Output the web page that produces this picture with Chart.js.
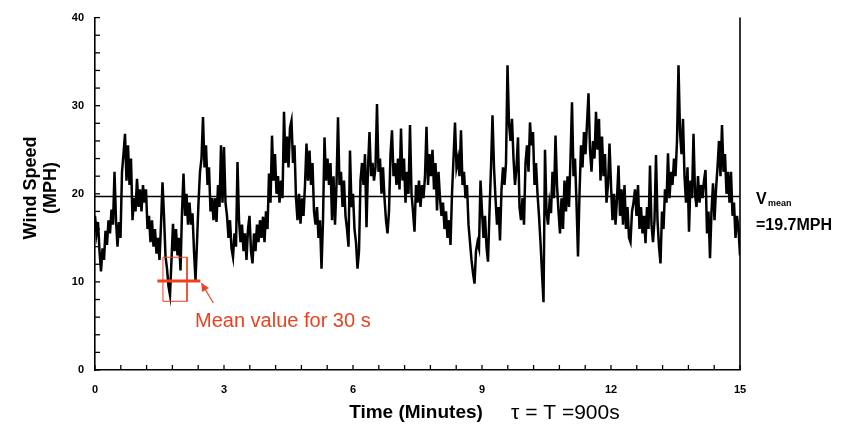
<!DOCTYPE html>
<html>
<head>
<meta charset="utf-8">
<script src="https://cdn.jsdelivr.net/npm/chart.js@4.4.1/dist/chart.umd.min.js"></script>
<style>
  html, body { margin: 0; padding: 0; background: #fff; }
</style>
</head>
<body>
<canvas id="windChart" width="852" height="429"></canvas>
<script>
// wind speed (MPH), one list per 3-minute stretch
const speed0to3 = [17.5,15.5,16.8,13.5,11.2,13.8,12.5,15.8,14.2,17.0,15.5,18.2,16.5,22.5,17.0,14.0,16.8,15.0,22.5,24.5,26.8,21.5,25.5,21.0,24.0,17.0,19.5,18.0,21.7,18.5,20.5,18.0,21.0,19.0,20.5,16.0,17.5,14.5,17.0,14.0,16.0,13.2,15.0,12.5,16.5,21.3,17.5,12.9,11.5,9.5,8.5,12.5,16.6,13.5,16.0,13.0,15.0,11.3,18.0,22.3,17.5,20.0,16.5,19.0,16.5,17.8,13.5,10.2,14.5,19.0,22.5,24.0,28.7,23.0,25.5,21.0,23.0,18.0,19.5,17.0,19.5,16.8,21.0,18.5,25.5,19.0];
const speed3to6 = [25.3,19.0,17.5,15.0,17.0,13.8,12.8,15.5,14.0,23.6,17.0,14.5,16.5,13.5,15.5,12.5,16.0,17.5,13.5,12.1,15.5,13.5,16.5,14.5,17.0,15.0,17.4,14.5,18.0,16.0,22.3,19.0,26.6,21.5,24.5,20.0,22.0,19.0,21.5,19.5,29.3,23.5,26.5,23.0,27.5,28.3,23.5,25.5,19.5,17.0,20.0,16.6,19.5,17.5,21.0,25.7,21.5,24.9,21.0,23.5,18.0,16.5,18.5,15.0,17.0,11.5,17.0,26.4,21.5,24.0,21.0,23.5,17.0,22.0,16.5,21.0,28.7,21.0,22.5,18.5,21.5,17.5,16.0,14.0,24.9,18.5];
const speed6to9 = [20.0,16.0,14.5,11.5,13.5,21.5,23.5,21.0,24.5,16.2,23.0,27.0,22.0,23.5,21.5,23.0,30.2,22.5,24.0,20.0,23.0,19.5,17.0,15.5,18.0,24.5,27.2,22.0,23.5,21.0,24.0,20.5,27.4,21.5,24.0,19.0,22.5,20.0,27.8,20.0,18.0,15.7,21.0,19.0,21.5,18.5,21.0,19.5,22.0,27.6,21.0,24.5,22.0,25.0,20.5,23.5,18.1,22.5,19.5,17.5,19.0,16.0,18.0,15.0,17.0,14.2,20.0,24.0,28.1,23.0,24.0,22.0,27.2,21.0,22.5,19.5,21.0,16.5,14.5,12.5,11.0,9.8,13.5,14.5,13.8,21.5];
const speed9to12 = [18.0,15.0,17.5,14.0,12.3,18.0,23.0,28.9,23.0,19.5,16.5,18.5,14.7,20.5,23.0,21.0,23.5,34.6,28.0,26.0,28.5,24.0,21.0,23.0,26.4,18.5,17.0,19.5,16.5,23.5,25.5,22.5,28.1,25.5,27.0,21.0,23.5,20.0,17.5,14.5,11.0,7.7,25.0,18.0,16.5,19.0,17.8,22.5,19.5,26.6,21.0,18.0,15.5,19.5,16.0,21.5,18.0,22.0,18.5,24.0,30.4,22.0,24.0,19.0,12.9,20.0,25.5,23.0,27.0,24.5,28.0,31.4,25.0,22.5,26.0,24.0,29.3,25.0,28.5,21.5,26.5,22.0,24.5,19.0,21.0,25.7];
const speed12to15 = [21.0,17.0,20.0,16.5,19.5,23.2,17.5,20.5,16.5,21.0,16.0,18.5,15.0,14.5,18.0,19.0,20.5,17.5,21.0,16.0,18.5,15.5,17.5,14.4,18.5,16.0,23.2,16.5,14.5,17.0,24.4,17.0,14.0,12.1,18.0,16.0,20.5,19.0,24.6,19.5,22.5,21.0,24.0,22.0,26.0,34.6,27.0,24.5,28.5,22.0,19.0,23.0,15.7,21.5,19.5,26.8,20.0,18.5,22.0,19.0,21.0,19.5,21.5,22.7,15.5,18.0,12.7,18.0,21.2,17.0,20.5,23.0,26.0,22.0,27.8,22.5,24.5,20.0,22.5,19.0,22.5,17.5,19.0,15.0,17.5,16.0,13.0];

const sections = [speed0to3, speed3to6, speed6to9, speed9to12, speed12to15];
const meanSpeed = 19.7;
const yTickLabels = [0, 10, 20, 30, 40];
const xTickLabels = [0, 3, 6, 9, 12, 15];

// the 30 s window marked in red (minutes / MPH)
const windowBox = { from: 1.58, to: 2.14, low: 7.8, high: 12.8 };
const windowMean = { from: 1.45, to: 2.45, value: 10.1 };

const red = '#f2401e';
const fontFamily = "'Liberation Sans', Arial, sans-serif";

// spread each stretch's samples evenly over its 3 minutes
let windPoints = [];
sections.forEach((vals, k) => {
    const last = k === sections.length - 1;
    const step = 3 / (last ? vals.length - 1 : vals.length);
    vals.forEach((v, i) => windPoints.push({ x: k * 3 + i * step, y: v }));
});

const decorPlugin = {
    id: 'decor',
    afterDraw(chart) {
        const ctx = chart.ctx;
        const area = chart.chartArea;
        const xs = chart.scales.x;
        const ys = chart.scales.y;
        ctx.save();

        // inward tick marks
        ctx.strokeStyle = '#000';
        ctx.lineWidth = 1.3;
        ys.ticks.forEach(t => {
            const py = ys.getPixelForValue(t.value);
            ctx.beginPath();
            ctx.moveTo(area.left, py);
            ctx.lineTo(area.left + 5, py);
            ctx.stroke();
        });
        xs.ticks.forEach(t => {
            const px = xs.getPixelForValue(t.value);
            ctx.beginPath();
            ctx.moveTo(px, area.bottom);
            ctx.lineTo(px, area.bottom - 5);
            ctx.stroke();
        });

        // right frame
        ctx.lineWidth = 1.6;
        ctx.beginPath();
        ctx.moveTo(area.right, area.top);
        ctx.lineTo(area.right, area.bottom);
        ctx.stroke();

        // axis titles
        ctx.fillStyle = '#000';
        ctx.textAlign = 'center';
        ctx.textBaseline = 'middle';
        ctx.save();
        ctx.translate(31, 188);
        ctx.rotate(-Math.PI / 2);
        ctx.font = 'bold 18px ' + fontFamily;
        ctx.fillText('Wind Speed', 0, 0);
        ctx.fillText('(MPH)', 0, 20);
        ctx.restore();

        ctx.font = 'bold 19px ' + fontFamily;
        ctx.fillText('Time (Minutes)', 416, 413);

        ctx.textAlign = 'left';
        ctx.font = '21px ' + fontFamily;
        ctx.fillText('\u03c4 = T =900s', 511, 413);

        // mean label
        ctx.font = 'bold 16px ' + fontFamily;
        ctx.fillText('V', 756, 200);
        ctx.font = 'bold 9px ' + fontFamily;
        ctx.fillText('mean', 768, 204);
        ctx.font = 'bold 16px ' + fontFamily;
        ctx.fillText('=19.7MPH', 756, 226);

        // red annotation text and arrow
        ctx.fillStyle = red;
        ctx.strokeStyle = red;
        ctx.font = '20px ' + fontFamily;
        ctx.fillText('Mean value for 30 s', 195, 321);

        const tipX = xs.getPixelForValue(windowMean.to) + 1;
        const tipY = ys.getPixelForValue(windowMean.value) + 2;
        const tailX = tipX + 12;
        const tailY = tipY + 20;
        const ang = Math.atan2(tipY - tailY, tipX - tailX);
        ctx.lineWidth = 1.2;
        ctx.beginPath();
        ctx.moveTo(tailX, tailY);
        ctx.lineTo(tipX, tipY);
        ctx.stroke();
        ctx.beginPath();
        ctx.moveTo(tipX, tipY);
        ctx.lineTo(tipX - 9 * Math.cos(ang - 0.45), tipY - 9 * Math.sin(ang - 0.45));
        ctx.lineTo(tipX - 9 * Math.cos(ang + 0.45), tipY - 9 * Math.sin(ang + 0.45));
        ctx.closePath();
        ctx.fill();

        ctx.restore();
    }
};

const tickFont = { family: fontFamily, size: 11, weight: 'bold' };

new Chart(document.getElementById('windChart').getContext('2d'), {
    type: 'line',
    data: {
        datasets: [
            {
                label: 'Mean value for 30 s',
                data: [{ x: windowMean.from, y: windowMean.value }, { x: windowMean.to, y: windowMean.value }],
                borderColor: red,
                borderWidth: 3,
                pointRadius: 0
            },
            {
                label: '30 s window',
                data: [
                    { x: windowBox.from, y: windowBox.high },
                    { x: windowBox.to, y: windowBox.high },
                    { x: windowBox.to, y: windowBox.low },
                    { x: windowBox.from, y: windowBox.low },
                    { x: windowBox.from, y: windowBox.high }
                ],
                borderColor: red,
                borderWidth: 1,
                pointRadius: 0
            },
            {
                label: 'Vmean',
                data: [{ x: 0, y: meanSpeed }, { x: 15, y: meanSpeed }],
                borderColor: '#000',
                borderWidth: 1.6,
                pointRadius: 0
            },
            {
                label: 'Wind Speed',
                data: windPoints,
                borderColor: '#000',
                borderWidth: 2.5,
                pointRadius: 0,
                tension: 0
            }
        ]
    },
    options: {
        responsive: false,
        animation: false,
        devicePixelRatio: 1,
        layout: { padding: { left: 0, right: 112, top: 17, bottom: 0 } },
        plugins: {
            legend: { display: false },
            tooltip: { enabled: false }
        },
        scales: {
            x: {
                type: 'linear',
                min: 0,
                max: 15,
                afterFit: s => { s.height = 59; },
                border: { display: true, color: '#000', width: 1.6 },
                grid: { display: true, drawOnChartArea: false, drawTicks: false },
                ticks: {
                    stepSize: 0.6,
                    autoSkip: false,
                    maxRotation: 0,
                    padding: 13,
                    color: '#000',
                    font: tickFont,
                    callback: v => xTickLabels.some(l => Math.abs(l - v) < 1e-6) ? String(Math.round(v)) : ''
                }
            },
            y: {
                min: 0,
                max: 40,
                afterFit: s => { s.width = 95; },
                border: { display: true, color: '#000', width: 1.6 },
                grid: { display: true, drawOnChartArea: false, drawTicks: false },
                ticks: {
                    stepSize: 2,
                    autoSkip: false,
                    padding: 11,
                    color: '#000',
                    font: tickFont,
                    callback: v => yTickLabels.includes(v) ? String(v) : ''
                }
            }
        }
    },
    plugins: [decorPlugin]
});
</script>
</body>
</html>
